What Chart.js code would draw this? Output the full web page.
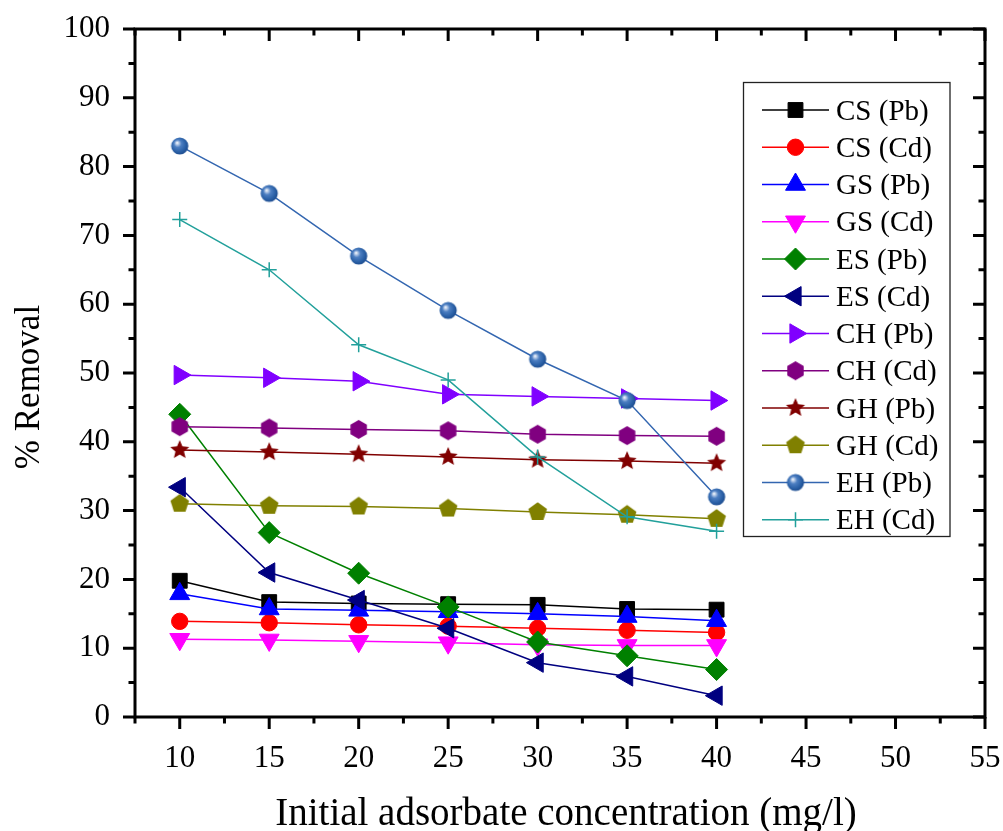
<!DOCTYPE html>
<html>
<head>
<meta charset="utf-8">
<script src="https://cdn.jsdelivr.net/npm/chart.js@4.4.1/dist/chart.umd.min.js"></script>
<style>
  html, body { margin: 0; padding: 0; background: #ffffff; }
  #plot { display: block; }
</style>
</head>
<body>
<canvas id="plot" width="1003" height="831"></canvas>
<script>
// Initial adsorbate concentration (mg/l)
const concentrations = [10, 15, 20, 25, 30, 35, 40];

// % Removal for each adsorbent / metal pair
const csPb = [19.8, 16.7, 16.5, 16.4, 16.3, 15.7, 15.6];
const csCd = [13.9, 13.7, 13.4, 13.2, 12.9, 12.6, 12.3];
const gsPb = [17.9, 15.7, 15.5, 15.3, 15.0, 14.6, 14.0];
const gsCd = [11.3, 11.2, 11.0, 10.8, 10.5, 10.4, 10.4];
const esPb = [44.0, 26.8, 20.9, 16.0, 10.9, 8.9, 6.9];
const esCd = [33.4, 21.0, 17.0, 12.9, 7.9, 5.9, 3.1];
const chPb = [49.7, 49.3, 48.8, 46.9, 46.6, 46.3, 46.0];
const chCd = [42.2, 42.0, 41.8, 41.6, 41.1, 40.9, 40.8];
const ghPb = [38.8, 38.5, 38.2, 37.8, 37.4, 37.2, 36.9];
const ghCd = [31.0, 30.7, 30.6, 30.3, 29.8, 29.4, 28.8];
const ehPb = [83.0, 76.1, 67.0, 59.1, 52.0, 46.0, 32.0];
const ehCd = [72.3, 65.0, 54.1, 49.0, 37.8, 29.1, 27.0];

const seriesLabels = ['CS (Pb)', 'CS (Cd)', 'GS (Pb)', 'GS (Cd)', 'ES (Pb)', 'ES (Cd)',
                      'CH (Pb)', 'CH (Cd)', 'GH (Pb)', 'GH (Cd)', 'EH (Pb)', 'EH (Cd)'];

const xTickValues = [10, 15, 20, 25, 30, 35, 40, 45, 50, 55];
const xMinorValues = [7.5, 12.5, 17.5, 22.5, 27.5, 32.5, 37.5, 42.5, 47.5, 52.5];
const yTickValues = [0, 10, 20, 30, 40, 50, 60, 70, 80, 90, 100];
const yMinorValues = [5, 15, 25, 35, 45, 55, 65, 75, 85, 95];

const xTitle = 'Initial adsorbate concentration (mg/l)';
const yTitle = '% Removal';

const SERIF = '"Liberation Serif", "Times New Roman", Times, serif';

// ---- custom marker glyphs -------------------------------------------------
function markerCanvas(r, paint) {
  const s = Math.ceil(r * 2 + 4);
  const c = document.createElement('canvas');
  c.width = s; c.height = s;
  const g = c.getContext('2d');
  g.translate(s / 2, s / 2);
  paint(g, r);
  return c;
}
function polygonPath(g, n, R, start) {
  g.beginPath();
  for (let i = 0; i < n; i++) {
    const a = start + i * 2 * Math.PI / n;
    const px = R * Math.cos(a), py = R * Math.sin(a);
    if (i === 0) g.moveTo(px, py); else g.lineTo(px, py);
  }
  g.closePath();
}
const hexagonMarker = markerCanvas(9.5, (g, r) => {
  polygonPath(g, 6, r, -Math.PI / 2);
  g.fillStyle = '#800080'; g.fill();
});
const pentagonMarker = markerCanvas(9.8, (g, r) => {
  polygonPath(g, 5, r, -Math.PI / 2);
  g.fillStyle = '#808000'; g.fill();
});
const starMarker = markerCanvas(10, (g, r) => {
  g.beginPath();
  for (let i = 0; i < 10; i++) {
    const a = -Math.PI / 2 + i * Math.PI / 5;
    const rr = i % 2 === 0 ? r : r * 0.45;
    const px = rr * Math.cos(a), py = rr * Math.sin(a);
    if (i === 0) g.moveTo(px, py); else g.lineTo(px, py);
  }
  g.closePath();
  g.fillStyle = '#800000'; g.fill();
});
const sphereMarker = markerCanvas(8.6, (g, r) => {
  const grad = g.createRadialGradient(-0.32 * r, -0.38 * r, 0, -0.1 * r, -0.1 * r, 1.15 * r);
  grad.addColorStop(0, '#ffffff');
  grad.addColorStop(0.12, '#c9d8ee');
  grad.addColorStop(0.38, '#4d7fc2');
  grad.addColorStop(0.75, '#2a60a6');
  grad.addColorStop(1, '#1c4a8c');
  g.beginPath(); g.arc(0, 0, r, 0, Math.PI * 2);
  g.fillStyle = grad; g.fill();
});

// ---- series styling ---------------------------------------------------------
const seriesValues = [csPb, csCd, gsPb, gsCd, esPb, esCd, chPb, chCd, ghPb, ghCd, ehPb, ehCd];
const seriesColors = ['#000000', '#ff0000', '#0000ff', '#ff00ff', '#008000', '#000080',
                      '#8000ff', '#800080', '#800000', '#808000', '#3366b0', '#22a09b'];
const seriesStyles = [
  { pointStyle: 'rect', radius: 10.5, rotation: 0 },
  { pointStyle: 'circle', radius: 8.2, rotation: 0 },
  { pointStyle: 'triangle', radius: 11.5, rotation: 0 },
  { pointStyle: 'triangle', radius: 11.5, rotation: 180 },
  { pointStyle: 'rectRot', radius: 11, rotation: 0 },
  { pointStyle: 'triangle', radius: 11.2, rotation: -90 },
  { pointStyle: 'triangle', radius: 11.2, rotation: 90 },
  { pointStyle: hexagonMarker, radius: 9.5, rotation: 0 },
  { pointStyle: starMarker, radius: 10, rotation: 0 },
  { pointStyle: pentagonMarker, radius: 9.8, rotation: 0 },
  { pointStyle: sphereMarker, radius: 8.6, rotation: 0 },
  { pointStyle: 'cross', radius: 7.5, rotation: 0 }
];

const datasets = seriesLabels.map((label, i) => ({
  label: label,
  data: concentrations.map((c, k) => ({ x: c, y: seriesValues[i][k] })),
  borderColor: seriesColors[i],
  backgroundColor: seriesColors[i],
  borderWidth: 1.5,
  pointStyle: seriesStyles[i].pointStyle,
  pointRadius: seriesStyles[i].radius,
  pointRotation: seriesStyles[i].rotation,
  pointBackgroundColor: seriesColors[i],
  pointBorderColor: seriesColors[i],
  pointBorderWidth: seriesStyles[i].pointStyle === 'cross' ? 1.5 : 1,
  tension: 0,
  fill: false,
  // later series are painted over earlier ones
  order: seriesLabels.length - i
}));

// ---- frame, ticks, titles and legend ----------------------------------------
const framePlugin = {
  id: 'frame',
  afterDraw(chart) {
    const ctx = chart.ctx;
    const xs = chart.scales.x, ys = chart.scales.y;
    const L = xs.getPixelForValue(7.5), R = xs.getPixelForValue(55);
    const T = ys.getPixelForValue(100), B = ys.getPixelForValue(0);
    ctx.save();
    ctx.strokeStyle = '#000';
    ctx.lineWidth = 3;
    ctx.lineCap = 'butt';
    ctx.beginPath();
    ctx.rect(L, T, R - L, B - T);
    ctx.stroke();
    const major = 12, minor = 6.5;
    ctx.beginPath();
    yTickValues.forEach(v => {
      const p = ys.getPixelForValue(v);
      ctx.moveTo(L - major, p); ctx.lineTo(L, p);
      ctx.moveTo(R - major, p); ctx.lineTo(R, p);
    });
    yMinorValues.forEach(v => {
      const p = ys.getPixelForValue(v);
      ctx.moveTo(L - minor, p); ctx.lineTo(L, p);
      ctx.moveTo(R - minor, p); ctx.lineTo(R, p);
    });
    xTickValues.forEach(v => {
      const p = xs.getPixelForValue(v);
      ctx.moveTo(p, B); ctx.lineTo(p, B + major);
      ctx.moveTo(p, T); ctx.lineTo(p, T + major);
    });
    xMinorValues.forEach(v => {
      const p = xs.getPixelForValue(v);
      ctx.moveTo(p, B); ctx.lineTo(p, B + minor);
      ctx.moveTo(p, T); ctx.lineTo(p, T + minor);
    });
    ctx.stroke();

    // axis titles
    ctx.fillStyle = '#000';
    ctx.font = '39px ' + SERIF;
    ctx.textAlign = 'center';
    ctx.textBaseline = 'alphabetic';
    ctx.fillText(xTitle, 566, 825);
    ctx.save();
    ctx.translate(39, 387);
    ctx.rotate(-Math.PI / 2);
    ctx.font = '35px ' + SERIF;
    ctx.fillText(yTitle, 0, 0);
    ctx.restore();

    // legend box
    const bx = 743.5, by = 82.5, bw = 206.5, bh = 454;
    ctx.lineWidth = 1.3;
    ctx.strokeStyle = '#222';
    ctx.strokeRect(bx, by, bw, bh);
    ctx.font = '29px ' + SERIF;
    ctx.textAlign = 'left';
    chart.data.datasets.forEach((ds, i) => {
      const cy = 110 + i * 37.25;
      ctx.strokeStyle = ds.borderColor;
      ctx.lineWidth = 1.5;
      ctx.beginPath();
      ctx.moveTo(762, cy); ctx.lineTo(829, cy);
      ctx.stroke();
      ctx.fillStyle = ds.pointBackgroundColor;
      ctx.strokeStyle = ds.pointBorderColor;
      ctx.lineWidth = ds.pointBorderWidth;
      Chart.helpers.drawPoint(ctx, {
        pointStyle: ds.pointStyle,
        rotation: ds.pointRotation,
        radius: ds.pointRadius,
        borderWidth: ds.pointBorderWidth
      }, 795.5, cy);
      ctx.fillStyle = '#000';
      ctx.fillText(ds.label, 836, cy + 9.5);
    });
    ctx.restore();
  }
};

new Chart(document.getElementById('plot'), {
  type: 'line',
  data: { datasets: datasets },
  options: {
    responsive: false,
    animation: false,
    devicePixelRatio: 1,
    layout: { padding: { top: 29, right: 18, left: 0, bottom: 0 } },
    plugins: { legend: { display: false }, tooltip: { enabled: false } },
    scales: {
      x: {
        type: 'linear',
        min: 7.5,
        max: 55,
        afterBuildTicks: s => { s.ticks = xTickValues.map(v => ({ value: v })); },
        afterFit: s => {
          s.height = 114;
          s.paddingLeft = 0; s.paddingRight = 0; s.paddingTop = 0; s.paddingBottom = 0;
        },
        grid: { display: false },
        border: { display: false },
        ticks: {
          color: '#000',
          font: { family: SERIF, size: 31 },
          padding: 15,
          maxRotation: 0,
          autoSkip: false
        }
      },
      y: {
        type: 'linear',
        min: 0,
        max: 100,
        afterBuildTicks: s => { s.ticks = yTickValues.map(v => ({ value: v })); },
        afterFit: s => {
          s.width = 135;
          s.paddingLeft = 0; s.paddingRight = 0; s.paddingTop = 0; s.paddingBottom = 0;
        },
        grid: { display: false },
        border: { display: false },
        ticks: {
          color: '#000',
          font: { family: SERIF, size: 31 },
          padding: 17,
          autoSkip: false
        }
      }
    }
  },
  plugins: [framePlugin]
});
</script>
</body>
</html>
